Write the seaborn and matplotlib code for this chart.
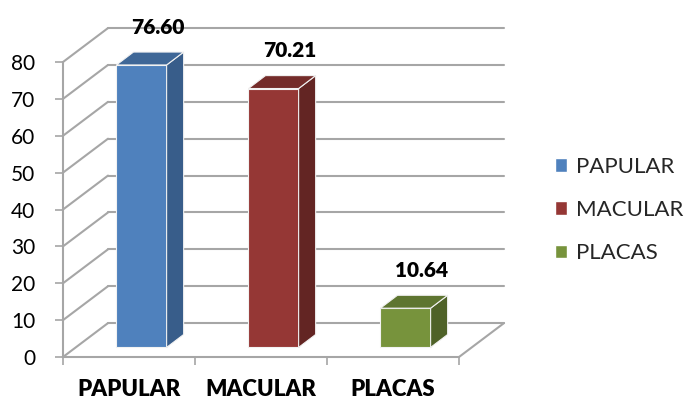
import matplotlib
matplotlib.use("Agg")
import matplotlib.pyplot as plt
from matplotlib.patches import Polygon, Patch
import seaborn as sns

categories = ["PAPULAR", "MACULAR", "PLACAS"]
values = [76.60, 70.21, 10.64]
front_colors = ["#4F81BD", "#953735", "#77933C"]
side_colors = ["#385D8A", "#632523", "#4F6228"]
top_colors = ["#3F6797", "#742C2A", "#5E7530"]
yticks = [0, 10, 20, 30, 40, 50, 60, 70, 80]

# oblique "3D" offsets (category units, value units)
DX, DY = 0.341, 9.2          # full floor depth
OX, OY = 0.095, 2.6          # bar front sits a bit into the floor
BDX, BDY = 0.129, 3.5        # bar depth
GRID = "#A6A6A6"

sns.set_theme(style="white")
plt.rcParams["font.family"] = ["Lato", "DejaVu Sans"]

W, H = 685, 401
fig = plt.figure(figsize=(W / 100, H / 100), dpi=100)
xmin, xmax = -0.5, 2.5 + DX + 0.03
ymin, ymax = 0, 80 + DY + 1
px_x, px_y = 132.0, 295.0 / 80
ax = fig.add_axes([63 / W, (H - 357) / H, (xmax - xmin) * px_x / W, (ymax - ymin) * px_y / H])

sns.barplot(x=categories, y=values, hue=categories, palette=front_colors,
            saturation=1, width=0.38, legend=False, ax=ax, zorder=3,
            edgecolor="#F2F2F2", linewidth=0.8)

ax.set_xlim(xmin, xmax)
ax.set_ylim(ymin, ymax)
for s in ax.spines.values():
    s.set_visible(False)

# walls and floor
for v in yticks:
    ax.plot([-0.5, -0.5 + DX], [v, v + DY], color=GRID, lw=1.5, zorder=1, clip_on=False)
    ax.plot([-0.5 + DX, 2.5 + DX], [v + DY, v + DY], color=GRID, lw=1.5, zorder=1, clip_on=False)
ax.plot([2.5, 2.5 + DX], [0, DY], color=GRID, lw=1.5, zorder=1, clip_on=False)
ax.plot([-0.5, 2.5], [0, 0], color=GRID, lw=1.5, zorder=1, clip_on=False)
ax.plot([-0.5, -0.5], [0, 80], color=GRID, lw=1.5, zorder=1, clip_on=False)

bars = list(ax.patches)[:len(values)]
for i, p in enumerate(bars):
    h = p.get_height()
    p.set_x(p.get_x() + OX)
    p.set_y(OY)
    x0 = p.get_x()
    x1 = x0 + p.get_width()
    side = Polygon([(x1, OY), (x1 + BDX, OY + BDY), (x1 + BDX, OY + h + BDY), (x1, OY + h)],
                   closed=True, facecolor=side_colors[i], edgecolor="#F2F2F2", lw=0.8, zorder=3)
    top = Polygon([(x0, OY + h), (x0 + BDX, OY + h + BDY), (x1 + BDX, OY + h + BDY), (x1, OY + h)],
                  closed=True, facecolor=top_colors[i], edgecolor="#F2F2F2", lw=0.8, zorder=3)
    ax.add_patch(side)
    ax.add_patch(top)
    ax.text((x0 + x1 + BDX) / 2 + 0.06, OY + h + BDY + 5.0, f"{values[i]:.2f}",
            ha="center", va="baseline", fontsize=15, fontweight="heavy", color="black",
            clip_on=False, zorder=5)

ax.set_yticks(yticks)
ax.set_yticklabels([str(v) for v in yticks])
ax.tick_params(axis="y", which="major", left=True, length=6, width=1.2, color=GRID,
               pad=14, labelsize=15, labelcolor="black")
ax.set_xticks(range(len(categories)))
ax.set_xticklabels(categories, fontweight="heavy")
ax.set_xticks([-0.5, 0.5, 1.5, 2.5], minor=True)
ax.tick_params(axis="x", which="major", bottom=True, length=0, pad=16, labelsize=16,
               labelcolor="black")
ax.tick_params(axis="x", which="minor", bottom=True, length=6, width=1.2, color=GRID)
ax.set_xlabel("")
ax.set_ylabel("")

handles = [Patch(facecolor=c) for c in front_colors]
fig.legend(handles, categories, loc="center left", bbox_to_anchor=(555 / W, (H - 210) / H),
           frameon=False, fontsize=16, handlelength=0.55, handleheight=0.55,
           handletextpad=0.4, labelspacing=1.05, borderpad=0, borderaxespad=0)

fig.savefig("out.png", dpi=100)
